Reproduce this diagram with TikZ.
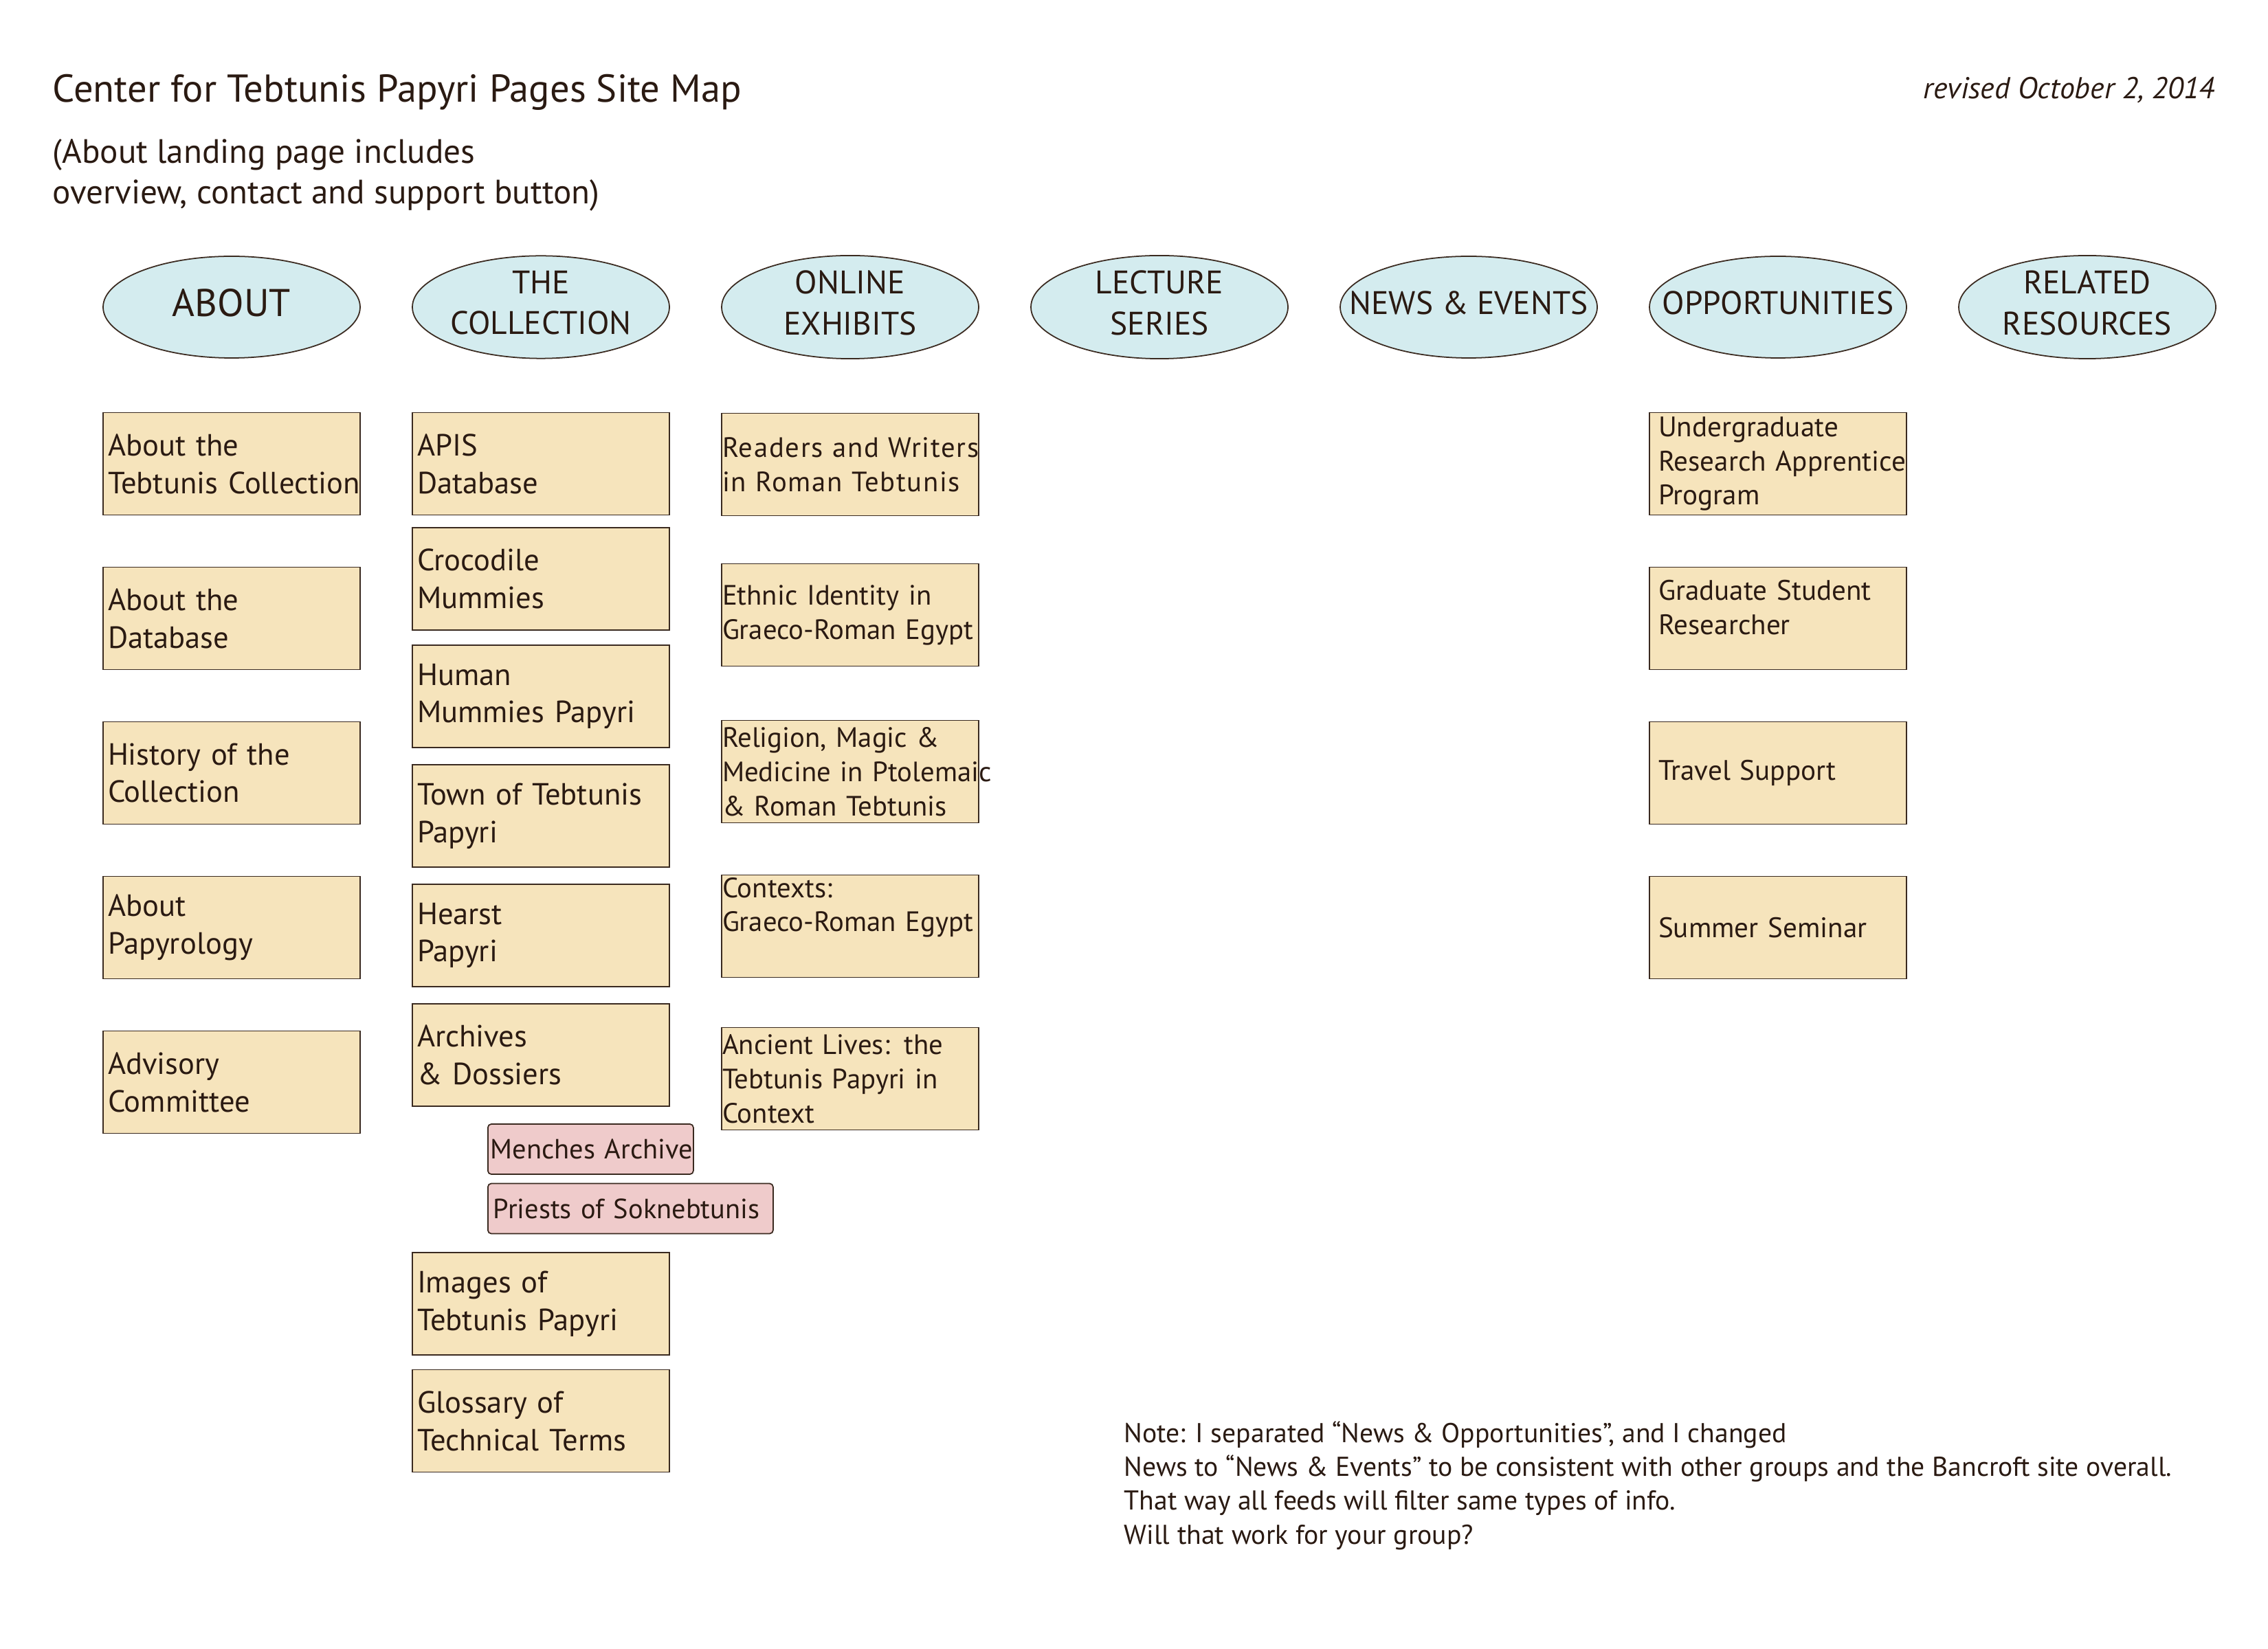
\documentclass[tikz,border=0pt]{standalone}
\usepackage{fontspec}
\setmainfont{PT Sans}
\usepackage{tikz}
\usetikzlibrary{shapes.geometric,positioning}
\definecolor{ink}{HTML}{2A1A12}
\definecolor{edge}{HTML}{3A2A20}
\definecolor{wheat}{HTML}{F6E4BC}
\definecolor{sky}{HTML}{D4ECEF}
\definecolor{rose}{HTML}{EFCBCB}
\newcommand{\pagefont}{\fontsize{12.7}{15.6}\selectfont}
\newcommand{\exhibfont}{\fontsize{11.6}{14.2}\selectfont}
\newcommand{\oppfont}{\fontsize{11.7}{14.1}\selectfont}
\tikzstyle{menuhead} = [ellipse, minimum width=3.74cm, minimum height=1.48cm, inner xsep=-0.5cm, inner ysep=0pt, text depth=0.13cm, align=center, draw=edge, line width=0.5pt, fill=sky, text=ink, font=\fontsize{13.5}{16.9}\selectfont]
\tikzstyle{pagebox} = [rectangle, minimum width=3.74cm, minimum height=1.49cm, text width=3.6cm, inner xsep=0.07cm, inner ysep=0pt, align=left, draw=edge, line width=0.5pt, fill=wheat, text=ink, font=\pagefont]
\tikzstyle{exhibitbox} = [pagebox, text width=3.72cm, inner xsep=0.01cm, font=\exhibfont]
\tikzstyle{oppbox} = [pagebox, text width=3.48cm, inner xsep=0.13cm, font=\oppfont]
\tikzstyle{subbox} = [rectangle, rounded corners=0.05cm, minimum height=0.73cm, inner ysep=0pt, anchor=west, align=left, draw=edge, line width=0.5pt, fill=rose, text=ink, font=\fontsize{11.5}{14}\selectfont]
\tikzstyle{freetext} = [inner sep=0pt, align=left, text=ink]

\begin{document}
\hyphenpenalty=10000 \exhyphenpenalty=10000
\begin{tikzpicture}[node distance = 2.25cm]
	\useasboundingbox (0,0) rectangle (33,-24);
	\fill[white] (0,0) rectangle (33,-24);
	
	\node (title) [freetext, anchor = base west, font = \fontsize{16.1}{19}\selectfont] at (0.76,-1.49) {Center for Tebtunis Papyri Pages Site Map};
	\node (sub) [freetext, anchor = base west, font = \fontsize{14}{16.9}\selectfont] at (0.76,-2.966) {(About landing page includes\\overview, contact and support button)};
	\node (rev) [freetext, anchor = base east, font = \fontsize{12.5}{15}\selectfont\itshape] at (32.235,-1.44) {revised October 2, 2014};
	
	\node (about) [menuhead, font = \fontsize{16}{18}\selectfont] at (3.37,-4.47) {ABOUT};
	\node (coll) [menuhead, right of = about, xshift = 2.25cm] {THE\\COLLECTION};
	\node (exhib) [menuhead, right of = coll, xshift = 2.25cm] {ONLINE\\EXHIBITS};
	\node (lect) [menuhead, right of = exhib, xshift = 2.25cm] {LECTURE\\SERIES};
	\node (news) [menuhead, right of = lect, xshift = 2.25cm] {NEWS \& EVENTS};
	\node (opp) [menuhead, right of = news, xshift = 2.25cm] {OPPORTUNITIES};
	\node (rel) [menuhead, right of = opp, xshift = 2.25cm] {RELATED\\RESOURCES};
	
	\node (ab1) [pagebox, below of = about, yshift = -0.03cm] {About the\\Tebtunis~Collection};
	\node (ab2) [pagebox, below of = ab1] {About the\\Database};
	\node (ab3) [pagebox, below of = ab2] {History of the\\Collection};
	\node (ab4) [pagebox, below of = ab3] {About\\Papyrology};
	\node (ab5) [pagebox, below of = ab4] {Advisory\\Committee};
	
	\node (co1) [pagebox, below of = coll, yshift = -0.03cm] {APIS\\Database};
	\node (co2) [pagebox, below of = co1, yshift = 0.575cm] {Crocodile\\Mummies};
	\node (co3) [pagebox, below of = co2, yshift = 0.54cm] {Human\\Mummies~Papyri};
	\node (co4) [pagebox, below of = co3, yshift = 0.51cm] {Town~of~Tebtunis\\Papyri};
	\node (co5) [pagebox, below of = co4, yshift = 0.51cm] {Hearst\\Papyri};
	\node (co6) [pagebox, below of = co5, yshift = 0.51cm] {Archives\\\& Dossiers};
	\node (menches) [subbox, text width = 2.91cm, inner xsep = 0.04cm] at (7.09,-16.725) {Menches~Archive};
	\node (priests) [subbox, text width = 3.99cm, inner xsep = 0.08cm] at (7.09,-17.59) {Priests~of~Soknebtunis};
	\node (co7) [pagebox, below of = co6, yshift = -1.37cm] {Images of\\Tebtunis~Papyri};
	\node (co8) [pagebox, below of = co7, yshift = 0.545cm] {Glossary of\\Technical~Terms};
	
	\node (ex1) [exhibitbox, below of = exhib, yshift = -0.04cm, font = \exhibfont\addfontfeatures{LetterSpace=4}] {Readers~and~Writers\\in~Roman~Tebtunis};
	\node (ex2) [exhibitbox, below of = ex1, yshift = 0.06cm] {Ethnic Identity in\\Graeco-Roman~Egypt};
	\node (ex3) [exhibitbox, below of = ex2, yshift = -0.03cm] {Religion, Magic \&\\Medicine~in~Ptolemaic\\\&~Roman~Tebtunis};
	\node (ex4) [exhibitbox, below of = ex3, text depth = 1.13cm] {Contexts:\\Graeco-Roman~Egypt};
	\node (ex5) [exhibitbox, below of = ex4, yshift = 0.03cm] {Ancient Lives: the\\Tebtunis~Papyri~in\\Context};
	
	\node (op1) [oppbox, below of = opp, yshift = -0.03cm] {Undergraduate\\Research~Apprentice\\Program};
	\node (op2) [oppbox, below of = op1, text depth = 0.82cm] {Graduate Student\\Researcher};
	\node (op3) [oppbox, below of = op2] {Travel Support};
	\node (op4) [oppbox, below of = op3] {Summer Seminar};
	
	\node (note) [freetext, anchor = base west, font = \fontsize{11.3}{14.06}\selectfont] at (16.35,-22.473) {Note: I separated “News \& Opportunities”, and I changed\\News to “News \& Events” to be consistent with other groups and the Bancroft site overall.\\That way all feeds will filter same types of info.\\Will that work for your group?};
\end{tikzpicture}
\end{document}
